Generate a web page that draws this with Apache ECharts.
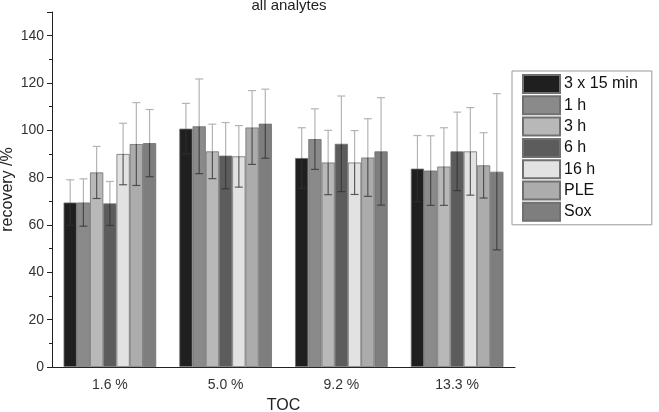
<!DOCTYPE html>
<html>
<head>
<meta charset="utf-8">
<script src="https://cdn.jsdelivr.net/npm/echarts@6/dist/echarts.min.js"></script>
<style>
  html, body {margin: 0; padding: 0; background: #fff;}
  #main {width: 659px; height: 412px;}
</style>
</head>
<body>
<div id="main"></div>
<script>
// TOC levels on the x axis
const categories = ['1.6 %', '5.0 %', '9.2 %', '13.3 %'];
const methods = ['3 x 15 min', '1 h', '3 h', '6 h', '16 h', 'PLE', 'Sox'];
const colors = ['#1f1f1f', '#8a8a8a', '#b8b8b8', '#5c5c5c', '#e2e2e2', '#acacac', '#7e7e7e'];

// mean recovery per method, one value per TOC level
const recovery = [
  [69.5, 100.7, 88.3, 83.8],
  [69.5, 101.7, 96.3, 83.0],
  [82.2, 91.1, 86.4, 84.7],
  [69.1, 89.3, 94.3, 91.1],
  [90.0, 89.0, 86.4, 91.1],
  [94.2, 101.2, 88.5, 85.2],
  [94.6, 102.8, 91.1, 82.5]
];
// standard deviation per method
const deviation = [
  [9.6, 10.7, 12.8, 14.0],
  [10.0, 20.0, 12.8, 14.7],
  [11.0, 11.5, 13.6, 16.4],
  [9.3, 14.0, 20.2, 16.6],
  [13.0, 13.0, 13.5, 18.5],
  [17.5, 15.6, 16.4, 13.8],
  [14.2, 14.6, 22.7, 33.0]
];

const yTicks = {min: 0, max: 150, interval: 20};
const GAP = 0.2;

const errData = [];
methods.forEach((m, s) => {
  categories.forEach((c, ci) => {
    errData.push([ci, recovery[s][ci], deviation[s][ci], s]);
  });
});

const barSeries = methods.map((m, s) => ({
  name: m,
  type: 'bar',
  data: recovery[s],
  barGap: 0,
  barCategoryGap: GAP * 100 + '%',
  itemStyle: {color: colors[s], borderColor: '#707070', borderWidth: 0.8},
  emphasis: {disabled: true}
}));

const errSeries = {
  type: 'custom',
  name: 'err',
  z: 5,
  data: errData,
  encode: {x: 0, y: 1},
  renderItem(params, api) {
    const ci = api.value(0), v = api.value(1), e = api.value(2), s = api.value(3);
    const catW = api.size([1, 0])[0];
    const bw = catW * (1 - GAP) / methods.length;
    const x = api.coord([ci, v])[0] + (s - (methods.length - 1) / 2) * bw;
    const yMid = api.coord([ci, v])[1];
    const yTop = api.coord([ci, v + e])[1];
    const yBot = api.coord([ci, v - e])[1];
    const cap = 4;
    const up = {stroke: '#b4b4b4', lineWidth: 1.2};
    const down = {stroke: 'rgba(50,50,50,0.75)', lineWidth: 1.2};
    return {
      type: 'group',
      children: [
        {type: 'line', shape: {x1: x, y1: yTop, x2: x, y2: yMid}, style: up},
        {type: 'line', shape: {x1: x - cap, y1: yTop, x2: x + cap, y2: yTop}, style: up},
        {type: 'line', shape: {x1: x, y1: yMid, x2: x, y2: yBot}, style: down},
        {type: 'line', shape: {x1: x - cap, y1: yBot, x2: x + cap, y2: yBot}, style: down}
      ]
    };
  }
};

const font = 'Liberation Sans, Arial, sans-serif';
const chart = echarts.init(document.getElementById('main'));
chart.setOption({
  animation: false,
  textStyle: {fontFamily: font},
  title: {
    text: 'all analytes',
    left: 284,
    textAlign: 'center',
    top: -7,
    textStyle: {fontSize: 15, fontWeight: 'normal', color: '#222', fontFamily: font}
  },
  grid: {left: 52, right: 144, top: 12, bottom: 45, outerBoundsMode: 'none'},
  legend: {
    data: methods,
    orient: 'vertical',
    left: 512,
    top: 71,
    icon: 'rect',
    itemWidth: 37,
    itemHeight: 18,
    itemGap: 1.3,
    padding: [3, 14, 3, 10],
    borderColor: '#999',
    borderWidth: 1,
    selectedMode: false,
    textStyle: {fontSize: 16, lineHeight: 18, color: '#111', fontFamily: font, padding: [0, 0, 0, -1]}
  },
  xAxis: [
    {
      type: 'category',
      data: categories,
      name: 'TOC',
      nameLocation: 'middle',
      nameGap: 31,
      nameMoveOverlap: false,
      nameTextStyle: {fontSize: 16, color: '#222'},
      axisLine: {lineStyle: {color: '#222', width: 1}},
      axisTick: {alignWithLabel: true, length: 5, lineStyle: {color: '#222'}},
      axisLabel: {fontSize: 14, color: '#333', margin: 11}
    },
    {
      type: 'category',
      data: categories,
      position: 'bottom',
      axisLine: {show: false},
      axisTick: {length: 3, lineStyle: {color: '#222'}},
      axisLabel: {show: false}
    }
  ],
  yAxis: {
    type: 'value',
    min: yTicks.min,
    max: yTicks.max,
    interval: yTicks.interval,
    name: 'recovery /%',
    nameLocation: 'middle',
    nameGap: 36,
    nameMoveOverlap: false,
    nameTextStyle: {fontSize: 16, color: '#222'},
    axisLine: {show: true, lineStyle: {color: '#222', width: 1}},
    axisTick: {show: true, length: 5, lineStyle: {color: '#222'}},
    minorTick: {show: true, splitNumber: 2, length: 3, lineStyle: {color: '#222'}},
    splitLine: {show: false},
    axisLabel: {
      fontSize: 14, color: '#333', margin: 8,
      formatter: v => (v % 20 === 0 ? String(v) : '')
    }
  },
  series: [...barSeries, errSeries]
});
</script>
</body>
</html>
